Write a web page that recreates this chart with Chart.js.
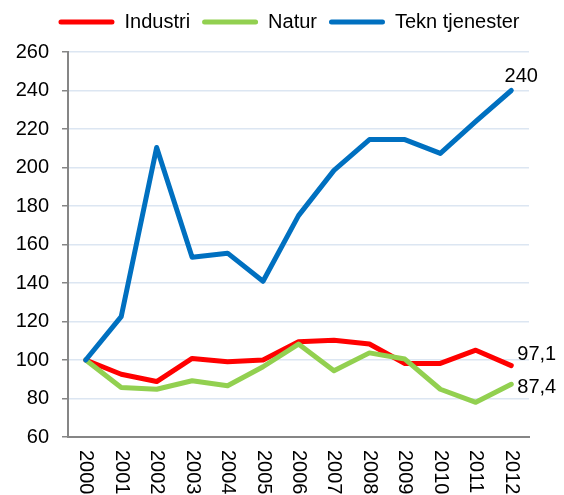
<!DOCTYPE html>
<html>
<head>
<meta charset="utf-8">
<script src="https://cdn.jsdelivr.net/npm/chart.js@4.4.0/dist/chart.umd.min.js"></script>
<style>
  html, body { margin: 0; padding: 0; background: #fff; }
  #wrap { width: 564px; height: 495px; }
</style>
</head>
<body>
<div id="wrap"><canvas id="chart"></canvas></div>
<script>
var years = ['2000', '2001', '2002', '2003', '2004', '2005', '2006', '2007', '2008', '2009', '2010', '2011', '2012'];
var industri = [100, 92.6, 88.8, 100.8, 99.1, 100.0, 109.5, 110.3, 108.3, 98.2, 98.2, 105.1, 97.1];
var natur = [100, 85.7, 84.8, 89.2, 86.6, 96.5, 108.3, 94.4, 103.7, 100.5, 84.8, 78.0, 87.4];
var tekn = [100, 122.5, 210.4, 153.4, 155.5, 140.9, 175.0, 198.5, 214.5, 214.5, 207.3, 224.0, 240];
var seriesNames = ['Industri', 'Natur', 'Tekn tjenester'];
var yTicks = [60, 80, 100, 120, 140, 160, 180, 200, 220, 240, 260];

var FONT = '"Liberation Sans", Arial, sans-serif';

// make room between legend and plot
var legendSpacer = {
    id: 'legendSpacer',
    afterInit: function (chart) {
        var fit = chart.legend.fit;
        chart.legend.fit = function () {
            fit.call(this);
            this.height = 52;
        };
    }
};

// year labels rotated clockwise, like the original
var xLabels = {
    id: 'xLabels',
    afterDraw: function (chart) {
        var ctx = chart.ctx;
        var xs = chart.scales.x;
        ctx.save();
        ctx.font = '20px ' + FONT;
        ctx.fillStyle = '#000';
        ctx.textAlign = 'left';
        ctx.textBaseline = 'middle';
        years.forEach(function (y, i) {
            ctx.save();
            ctx.translate(xs.getPixelForTick(i), chart.chartArea.bottom + 13);
            ctx.rotate(Math.PI / 2);
            ctx.fillText(y, 0, 0);
            ctx.restore();
        });
        ctx.restore();
    }
};

// value labels on the last point of each line
var endLabels = {
    id: 'endLabels',
    afterDatasetsDraw: function (chart) {
        var ctx = chart.ctx;
        var offsets = [
            { dx: 6, dy: -11, align: 'left' },
            { dx: 6, dy: 3, align: 'left' },
            { dx: 10, dy: -14, align: 'center' }
        ];
        ctx.save();
        ctx.font = '20px ' + FONT;
        ctx.fillStyle = '#000';
        ctx.textBaseline = 'middle';
        chart.data.datasets.forEach(function (ds, i) {
            var meta = chart.getDatasetMeta(i);
            var pt = meta.data[meta.data.length - 1];
            var v = ds.data[ds.data.length - 1];
            var o = offsets[i];
            ctx.textAlign = o.align;
            ctx.fillText(String(v).replace('.', ','), pt.x + o.dx, pt.y + o.dy);
        });
        ctx.restore();
    }
};

function line(label, data, color, order) {
    return {
        label: label,
        data: data,
        borderColor: color,
        backgroundColor: color,
        borderWidth: 5,
        borderCapStyle: 'round',
        borderJoinStyle: 'round',
        pointRadius: 0,
        tension: 0,
        order: order
    };
}

var ctx = document.getElementById('chart').getContext('2d');
var myChart = new Chart(ctx, {
    type: 'line',
    data: {
        labels: years,
        datasets: [
            line(seriesNames[0], industri, '#FF0000', 3),
            line(seriesNames[1], natur, '#92D050', 2),
            line(seriesNames[2], tekn, '#0070C0', 1)
        ]
    },
    options: {
        responsive: true,
        maintainAspectRatio: false,
        animation: false,
        devicePixelRatio: 1,
        layout: { padding: { left: 14, right: 0, top: 0, bottom: 58 } },
        plugins: {
            tooltip: { enabled: false },
            legend: {
                position: 'top',
                align: 'center',
                labels: {
                    font: { family: FONT, size: 20, lineHeight: 1 },
                    color: '#000',
                    boxWidth: 56,
                    boxHeight: 5,
                    padding: 12,
                    useBorderRadius: true,
                    borderRadius: 2.5,
                    generateLabels: function (chart) {
                        return chart.data.datasets.map(function (ds, i) {
                            return {
                                text: ds.label,
                                fillStyle: ds.borderColor,
                                strokeStyle: ds.borderColor,
                                lineWidth: 0,
                                borderRadius: 2.5,
                                fontColor: '#000',
                                hidden: false,
                                datasetIndex: i
                            };
                        });
                    }
                }
            }
        },
        scales: {
            x: {
                type: 'category',
                offset: true,
                grid: { display: false, drawTicks: false },
                border: { display: true, color: '#868686', width: 2 },
                ticks: { display: false }
            },
            y: {
                min: 60,
                max: 260,
                afterBuildTicks: function (scale) {
                    scale.ticks = yTicks.map(function (v) { return { value: v }; });
                },
                afterFit: function (scale) { scale.width = 54; },
                grid: {
                    color: '#DCE6F2',
                    lineWidth: 1.5,
                    tickColor: '#868686',
                    tickLength: 6
                },
                border: { display: true, color: '#868686', width: 2 },
                ticks: {
                    font: { family: FONT, size: 20 },
                    color: '#000',
                    padding: 13
                }
            },
            yR: {
                position: 'right',
                grid: { display: false, drawTicks: false },
                border: { display: false },
                ticks: { display: false },
                afterFit: function (scale) { scale.width = 35; }
            }
        }
    },
    plugins: [legendSpacer, xLabels, endLabels]
});
</script>
</body>
</html>
